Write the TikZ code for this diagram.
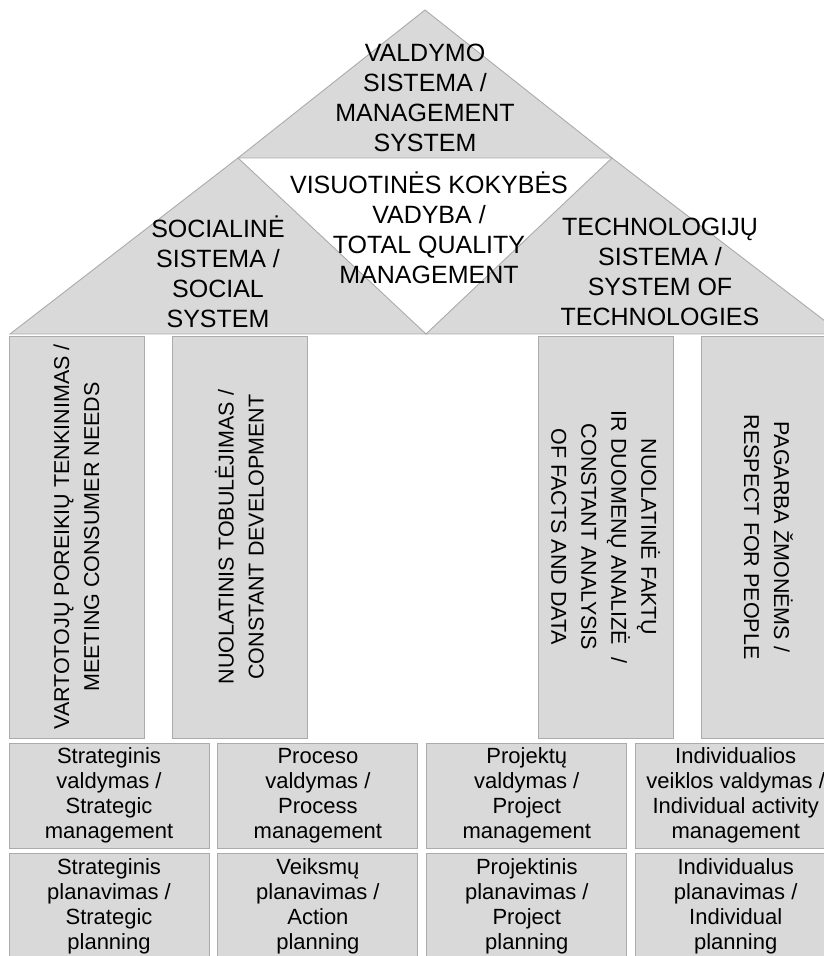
\documentclass[tikz,border=0pt]{standalone}
\usepackage{fontspec}
\setmainfont{Liberation Sans}
\usetikzlibrary{positioning}

\definecolor{panel}{HTML}{D9D9D9}
\definecolor{edge}{HTML}{ABABAB}

\begin{document}
\begin{tikzpicture}[x=1pt,y=1pt,every node/.style={align=center,inner sep=0pt},
  roof/.style={fill=panel,draw=edge,line width=.9pt},
  pillar/.style={rectangle,fill=panel,draw=edge,line width=.9pt,minimum width=402pt,minimum height=135pt,font=\fontsize{21.5}{30}\selectfont},
  cell/.style={rectangle,fill=panel,draw=edge,line width=.9pt,minimum width=200pt,minimum height=105pt,font=\fontsize{22}{25}\selectfont},
  big/.style={font=\fontsize{25}{30}\selectfont}]
  \useasboundingbox (0,0) rectangle (824,956);
  \clip (0,0) rectangle (824,956);

  \coordinate (apex) at (425,946);
  \coordinate (nw) at (238,798);
  \coordinate (ne) at (612,798);
  \coordinate (sw) at (10,622);
  \coordinate (s) at (426,622);
  \coordinate (se) at (842,622);

  \draw[roof] (apex) -- (ne) -- (nw) -- cycle;
  \draw[roof] (nw) -- (s) -- (sw) -- cycle;
  \draw[roof] (ne) -- (se) -- (s) -- cycle;

  \node[big] (mgmt) at (425,858) {VALDYMO\\SISTEMA /\\MANAGEMENT\\SYSTEM};
  \node[big] (tqm) at (429,728) {VISUOTINĖS KOKYBĖS\\VADYBA /\\TOTAL QUALITY\\MANAGEMENT};
  \node[big] (soc) at (218,684) {SOCIALINĖ\\SISTEMA /\\SOCIAL\\SYSTEM};
  \node[big] (tech) at (660,684) {TECHNOLOGIJŲ\\SISTEMA /\\SYSTEM OF\\TECHNOLOGIES};

  \node[pillar,rotate=90] (needs) at (76.5,419) {VARTOTOJŲ POREIKIŲ TENKINIMAS /\\MEETING CONSUMER NEEDS};
  \node[pillar,rotate=90] (devel) at (239.5,419) {NUOLATINIS TOBULĖJIMAS /\\CONSTANT DEVELOPMENT};
  \node[pillar,rotate=-90] (facts) at (605.5,419) {NUOLATINĖ FAKTŲ\\IR DUOMENŲ ANALIZĖ \ /\\CONSTANT ANALYSIS\\OF FACTS AND DATA};
  \node[pillar,rotate=-90] (people) at (768.5,419) {PAGARBA ŽMONĖMS /\\RESPECT FOR PEOPLE};

  \node[cell] (stratm) at (109,160.5) {Strateginis\\valdymas /\\Strategic\\management};
  \node[cell,right=8pt of stratm] (procm) {Proceso\\valdymas /\\Process\\management};
  \node[cell,right=8pt of procm] (projm) {Projektų\\valdymas /\\Project\\management};
  \node[cell,right=8pt of projm] (indm) {Individualios\\veiklos valdymas /\\Individual activity\\management};

  \node[cell,below=5pt of stratm] (stratp) {Strateginis\\planavimas /\\Strategic\\planning};
  \node[cell,below=5pt of procm] (actp) {Veiksmų\\planavimas /\\Action\\planning};
  \node[cell,below=5pt of projm] (projp) {Projektinis\\planavimas /\\Project\\planning};
  \node[cell,below=5pt of indm] (indp) {Individualus\\planavimas /\\Individual\\planning};
\end{tikzpicture}
\end{document}
